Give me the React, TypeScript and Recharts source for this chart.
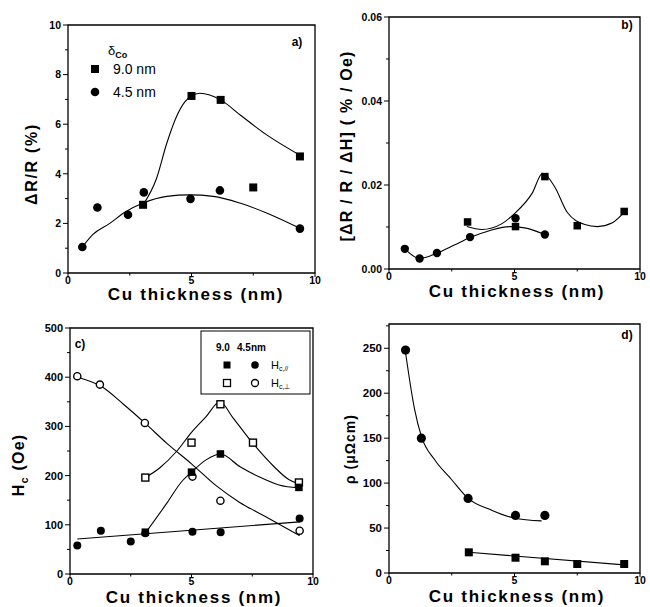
import React from 'react';
import { ComposedChart, XAxis, YAxis, Scatter, Line, ReferenceArea } from 'recharts';

const FONT = '"Liberation Sans", Arial, Helvetica, sans-serif';

type P = { x: number; y: number };
const zip = (xs: number[], ys: number[]): P[] => xs.map((x, i) => ({ x, y: ys[i] }));

// ---------- Panel a : dR/R ----------
const aSqX = [3.04, 5.0, 6.18, 7.5, 9.39];
const aSqY = [2.75, 7.14, 6.98, 3.45, 4.7];
const aCiX = [0.58, 1.19, 2.43, 3.07, 4.96, 6.15, 9.39];
const aCiY = [1.05, 2.64, 2.35, 3.25, 2.99, 3.33, 1.79];
const aSqFitX = [3.04, 3.58, 3.99, 4.39, 4.73, 5.0, 5.34, 5.74, 6.18, 7.0, 8.0, 9.39];
const aSqFitY = [2.75, 3.8, 5.2, 6.3, 6.9, 7.14, 7.25, 7.18, 6.98, 6.35, 5.6, 4.75];
const aCiFitX = [0.58, 1.0, 1.69, 2.3, 3.04, 4.0, 4.93, 5.88, 6.96, 8.04, 9.39];
const aCiFitY = [1.05, 1.55, 2.0, 2.45, 2.82, 3.09, 3.15, 3.09, 2.82, 2.42, 1.8];

// ---------- Panel b : dR/R/dH ----------
const bCiX = [0.63, 1.22, 1.91, 3.23, 5.04, 6.21];
const bCiY = [0.0048, 0.0025, 0.0038, 0.0076, 0.0121, 0.0082];
const bSqX = [3.13, 5.04, 6.21, 7.5, 9.37];
const bSqY = [0.0112, 0.0101, 0.022, 0.0103, 0.0137];
const bCiFitX = [0.63, 1.22, 1.91, 2.6, 3.23, 4.0, 4.8, 5.4, 6.21];
const bCiFitY = [0.0048, 0.0025, 0.0038, 0.0057, 0.0075, 0.0091, 0.0101, 0.0098, 0.0082];
const bSqFitX = [3.1, 3.7, 4.5, 5.0, 5.7, 6.12, 6.6, 7.1, 7.8, 8.3, 8.9, 9.4];
const bSqFitY = [0.0101, 0.0094, 0.0108, 0.0132, 0.018, 0.0228, 0.0196, 0.0135, 0.0106, 0.0101, 0.011, 0.0137];

// ---------- Panel c : Hc ----------
const cFSqX = [3.1, 5.0, 6.19, 9.42];
const cFSqY = [85, 207, 244, 176];
const cFCiX = [0.3, 1.27, 2.5, 3.1, 5.04, 6.2, 9.45];
const cFCiY = [58, 88, 66, 83, 86, 85, 113];
const cOSqX = [3.1, 5.0, 6.19, 7.53, 9.42];
const cOSqY = [196, 267, 345, 267, 186];
const cOCiX = [0.3, 1.23, 3.08, 5.04, 6.19, 9.45];
const cOCiY = [402, 385, 307, 198, 149, 88];
const cFSqFitX = [3.1, 4.0, 4.6, 5.0, 5.6, 6.19, 7.0, 7.8, 8.6, 9.42];
const cFSqFitY = [83, 145, 188, 207, 232, 244, 218, 197, 181, 175];
const cFCiFitX = [0.3, 9.45];
const cFCiFitY = [71, 106];
const cOSqFitX = [3.1, 3.7, 4.4, 5.0, 5.6, 6.17, 6.7, 7.5, 8.4, 9.0, 9.42];
const cOSqFitY = [196, 216, 250, 288, 320, 350, 318, 267, 218, 192, 183];
const cOCiFitX = [0.3, 1.3, 2.2, 3.1, 4.0, 5.0, 6.0, 7.0, 8.0, 9.45];
const cOCiFitY = [400, 381, 345, 306, 265, 224, 180, 145, 118, 78];

// ---------- Panel d : rho ----------
const dCiX = [0.66, 1.29, 3.15, 5.04, 6.21];
const dCiY = [248, 150, 83, 64, 64];
const dSqX = [3.18, 5.04, 6.21, 7.5, 9.37];
const dSqY = [23, 17, 13, 10, 10];
const dCiFitX = [0.66, 1.02, 1.29, 1.82, 2.49, 3.15, 4.08, 5.0, 6.08];
const dCiFitY = [245, 182, 152, 126, 104, 83, 70, 61, 58];
const dSqFitX = [3.18, 9.37];
const dSqFitY = [23, 9];

// ---------- ticks ----------
const xTicks = [0, 2.5, 5, 7.5, 10];
const xMajor = [0, 5, 10];
const aYTicks = [0, 1, 2, 3, 4, 5, 6, 7, 8, 9, 10];
const aYMajor = [0, 2, 4, 6, 8, 10];
const bYTicks = [0, 0.01, 0.02, 0.03, 0.04, 0.05, 0.06];
const bYMajor = [0, 0.02, 0.04, 0.06];
const cYTicks = [0, 50, 100, 150, 200, 250, 300, 350, 400, 450, 500];
const cYMajor = [0, 100, 200, 300, 400, 500];
const dYTicks = [0, 25, 50, 75, 100, 125, 150, 175, 200, 225, 250, 275];
const dYMajor = [0, 50, 100, 150, 200, 250];

const makeXTick = (majors: number[], fs: number) => (p: any) => {
  const v = p.payload.value;
  const major = majors.includes(v);
  return (
    <g>
      <line x1={p.x} x2={p.x} y1={p.y} y2={p.y + (major ? 4 : 2.5)} stroke="#000" strokeWidth={1} />
      {major && (
        <text x={p.x} y={p.y + 10.5} textAnchor="middle" fontFamily={FONT} fontWeight="bold" fontSize={fs} fill="#000">
          {v}
        </text>
      )}
    </g>
  );
};

const makeYTick = (majors: number[], fs: number, fmt: (v: number) => string) => (p: any) => {
  const v = p.payload.value;
  const major = majors.includes(v);
  return (
    <g>
      <line x1={p.x} x2={p.x - (major ? 5 : 3)} y1={p.y} y2={p.y} stroke="#000" strokeWidth={1} />
      {major && (
        <text x={p.x - 7} y={p.y} dy="0.36em" textAnchor="end" fontFamily={FONT} fontWeight="bold" fontSize={fs} fill="#000">
          {fmt(v)}
        </text>
      )}
    </g>
  );
};

const filledSquare = (s: number) => (p: any) => (
  <rect x={p.cx - s / 2} y={p.cy - s / 2} width={s} height={s} fill="#000" />
);
const openSquare = (s: number) => (p: any) => (
  <rect x={p.cx - s / 2} y={p.cy - s / 2} width={s} height={s} fill="#fff" stroke="#000" strokeWidth={1.4} />
);
const filledCircle = (r: number) => (p: any) => <circle cx={p.cx} cy={p.cy} r={r} fill="#000" />;
const openCircle = (r: number) => (p: any) => (
  <circle cx={p.cx} cy={p.cy} r={r} fill="#fff" stroke="#000" strokeWidth={1.4} />
);

type PanelProps = {
  left: number;
  top: number;
  width: number;
  height: number;
  plot: { top: number; right: number; bottom: number; left: number };
  yMax: number;
  yTicks: number[];
  yMajor: number[];
  yFont: number;
  yFmt: (v: number) => string;
  children: React.ReactNode;
};

function Panel(props: PanelProps) {
  const { left, top, width, height, plot, yMax, yTicks, yMajor, yFont, yFmt, children } = props;
  // axes take 1px each; margins adjusted so the plot box lands where requested
  const margin = { top: plot.top, right: plot.right, bottom: plot.bottom - 1, left: plot.left - 1 };
  return (
    <div style={{ position: 'absolute', left, top, width, height }}>
      <ComposedChart width={width} height={height} margin={margin}>
        <XAxis
          type="number"
          dataKey="x"
          domain={[0, 10]}
          allowDataOverflow
          ticks={xTicks}
          interval={0}
          height={1}
          tickSize={0}
          tickMargin={0}
          axisLine={false}
          tickLine={false}
          tick={makeXTick(xMajor, 10.5)}
        />
        <YAxis
          type="number"
          dataKey="y"
          domain={[0, yMax]}
          allowDataOverflow
          ticks={yTicks}
          interval={0}
          width={1}
          tickSize={0}
          tickMargin={0}
          axisLine={false}
          tickLine={false}
          tick={makeYTick(yMajor, yFont, yFmt)}
        />
        <ReferenceArea x1={0} x2={10} y1={0} y2={yMax} fill="none" fillOpacity={0} stroke="#000" strokeWidth={1.3} />
        {children}
      </ComposedChart>
    </div>
  );
}

const fitLine = (data: P[], key: string) => (
  <Line
    key={key}
    data={data}
    dataKey="y"
    type="monotone"
    dot={false}
    activeDot={false}
    stroke="#000"
    strokeWidth={1.1}
    isAnimationActive={false}
  />
);

const title = { fontFamily: FONT, fontWeight: 'bold' as const, fill: '#000' };

export default function App() {
  return (
    <div style={{ position: 'absolute', left: 0, top: 0, width: 650, height: 607, background: '#fff' }}>
      {/* a */}
      <Panel
        left={0}
        top={0}
        width={325}
        height={303}
        plot={{ top: 25, right: 10, bottom: 30, left: 68 }}
        yMax={10}
        yTicks={aYTicks}
        yMajor={aYMajor}
        yFont={10.5}
        yFmt={(v) => String(v)}
      >
        {fitLine(zip(aSqFitX, aSqFitY), 'a1')}
        {fitLine(zip(aCiFitX, aCiFitY), 'a2')}
        <Scatter data={zip(aSqX, aSqY)} shape={filledSquare(8)} isAnimationActive={false} />
        <Scatter data={zip(aCiX, aCiY)} shape={filledCircle(4.3)} isAnimationActive={false} />
      </Panel>
      {/* b */}
      <Panel
        left={325}
        top={0}
        width={325}
        height={303}
        plot={{ top: 17, right: 10, bottom: 34, left: 64 }}
        yMax={0.06}
        yTicks={bYTicks}
        yMajor={bYMajor}
        yFont={10.5}
        yFmt={(v) => v.toFixed(2)}
      >
        {fitLine(zip(bSqFitX, bSqFitY), 'b1')}
        {fitLine(zip(bCiFitX, bCiFitY), 'b2')}
        <Scatter data={zip(bSqX, bSqY)} shape={filledSquare(7.5)} isAnimationActive={false} />
        <Scatter data={zip(bCiX, bCiY)} shape={filledCircle(4.2)} isAnimationActive={false} />
      </Panel>
      {/* c */}
      <Panel
        left={0}
        top={303}
        width={325}
        height={304}
        plot={{ top: 25, right: 12, bottom: 33, left: 70 }}
        yMax={500}
        yTicks={cYTicks}
        yMajor={cYMajor}
        yFont={11}
        yFmt={(v) => String(v)}
      >
        {fitLine(zip(cOCiFitX, cOCiFitY), 'c1')}
        {fitLine(zip(cOSqFitX, cOSqFitY), 'c2')}
        {fitLine(zip(cFSqFitX, cFSqFitY), 'c3')}
        {fitLine(zip(cFCiFitX, cFCiFitY), 'c4')}
        <Scatter data={zip(cOCiX, cOCiY)} shape={openCircle(3.6)} isAnimationActive={false} />
        <Scatter data={zip(cOSqX, cOSqY)} shape={openSquare(7)} isAnimationActive={false} />
        <Scatter data={zip(cFSqX, cFSqY)} shape={filledSquare(7.5)} isAnimationActive={false} />
        <Scatter data={zip(cFCiX, cFCiY)} shape={filledCircle(4)} isAnimationActive={false} />
      </Panel>
      {/* d */}
      <Panel
        left={325}
        top={303}
        width={325}
        height={304}
        plot={{ top: 21, right: 10, bottom: 34, left: 64 }}
        yMax={277}
        yTicks={dYTicks}
        yMajor={dYMajor}
        yFont={11.5}
        yFmt={(v) => String(v)}
      >
        {fitLine(zip(dCiFitX, dCiFitY), 'd1')}
        {fitLine(zip(dSqFitX, dSqFitY), 'd2')}
        <Scatter data={zip(dCiX, dCiY)} shape={filledCircle(4.6)} isAnimationActive={false} />
        <Scatter data={zip(dSqX, dSqY)} shape={filledSquare(8)} isAnimationActive={false} />
      </Panel>

      {/* overlay texts and legends */}
      <svg width={650} height={607} style={{ position: 'absolute', left: 0, top: 0, pointerEvents: 'none' }}>
        {/* x titles */}
        <text x={196} y={300} textAnchor="middle" fontSize={17} letterSpacing={1.7} {...title}>Cu thickness (nm)</text>
        <text x={517} y={297} textAnchor="middle" fontSize={17} letterSpacing={1.7} {...title}>Cu thickness (nm)</text>
        <text x={194} y={603} textAnchor="middle" fontSize={17} letterSpacing={1.7} {...title}>Cu thickness (nm)</text>
        <text x={517} y={602} textAnchor="middle" fontSize={17} letterSpacing={1.7} {...title}>Cu thickness (nm)</text>

        {/* y titles */}
        <text transform="translate(37,164) rotate(-90)" textAnchor="middle" fontSize={16} letterSpacing={1.7} {...title}>ΔR/R (%)</text>
        <text transform="translate(352,146) rotate(-90)" textAnchor="middle" fontSize={16} letterSpacing={1.2} {...title}>[ΔR / R / ΔH] ( % / Oe)</text>
        <text transform="translate(24,465) rotate(-90)" textAnchor="middle" fontSize={16} letterSpacing={1.2} {...title}>
          H<tspan fontSize={11} dy={4}>c</tspan><tspan dy={-4}> (Oe)</tspan>
        </text>
        <text transform="translate(355,449) rotate(-90)" textAnchor="middle" fontSize={14} letterSpacing={1} {...title}>ρ (μΩcm)</text>

        {/* panel labels */}
        <text x={297} y={46} textAnchor="middle" fontSize={12} {...title}>a)</text>
        <text x={627} y={29} textAnchor="middle" fontSize={12} {...title}>b)</text>
        <text x={80} y={348} textAnchor="middle" fontSize={12} {...title}>c)</text>
        <text x={627} y={339} textAnchor="middle" fontSize={12} {...title}>d)</text>

        {/* legend a */}
        <text x={108} y={55} fontFamily={FONT} fontSize={13} fill="#000">
          δ<tspan fontSize={9} fontWeight="bold" dy={3}>Co</tspan>
        </text>
        <rect x={91} y={65} width={8} height={8} fill="#000" />
        <text x={113} y={74} fontFamily={FONT} fontSize={14} fill="#000">9.0 nm</text>
        <circle cx={95} cy={92} r={4.3} fill="#000" />
        <text x={113} y={97} fontFamily={FONT} fontSize={14} fill="#000">4.5 nm</text>

        {/* legend c */}
        <rect x={201} y={331} width={109} height={63} fill="#fff" stroke="#000" strokeWidth={1} />
        <text x={216} y={351} fontFamily={FONT} fontWeight="bold" fontSize={10} fill="#000">9.0</text>
        <text x={237} y={351} fontFamily={FONT} fontWeight="bold" fontSize={10} fill="#000">4.5nm</text>
        <rect x={223.5} y={361.5} width={7} height={7} fill="#000" />
        <circle cx={255} cy={365} r={3.8} fill="#000" />
        <text x={271} y={369} fontFamily={FONT} fontSize={11} fill="#000">
          H<tspan fontSize={7} dy={2}>c,//</tspan>
        </text>
        <rect x={223.5} y={379.5} width={7} height={7} fill="#fff" stroke="#000" strokeWidth={1.3} />
        <circle cx={255} cy={383} r={3.5} fill="#fff" stroke="#000" strokeWidth={1.3} />
        <text x={271} y={387} fontFamily={FONT} fontSize={11} fill="#000">
          H<tspan fontSize={7} dy={2}>c,⊥</tspan>
        </text>
      </svg>
    </div>
  );
}
